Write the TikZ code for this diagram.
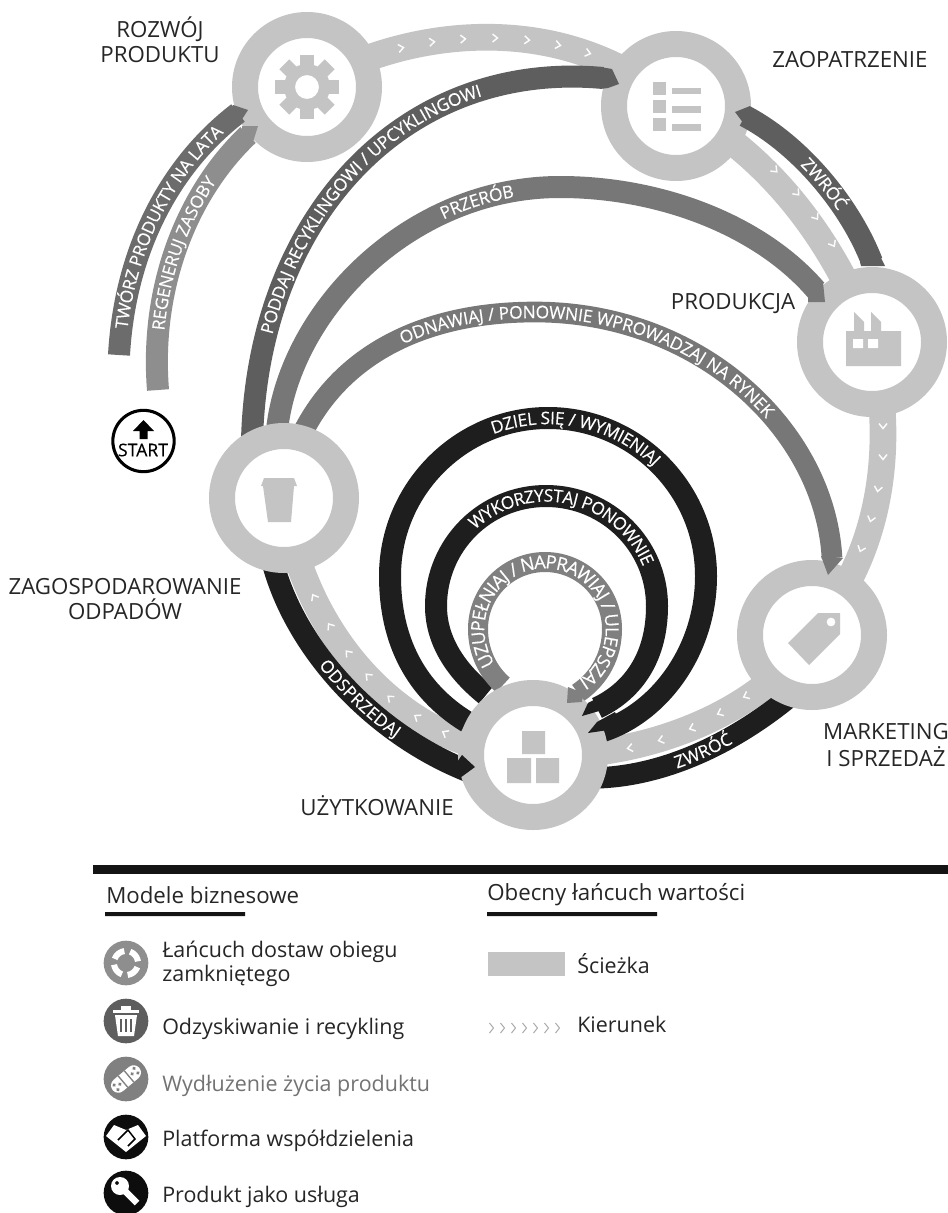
\documentclass[tikz,border=0pt]{standalone}
\usepackage{fontspec}
\usetikzlibrary{decorations.text,calc}
\newfontfamily\opensans{Open Sans}
\newfontfamily\opensansb{Open Sans}[FakeBold=0.25]
\newcommand\bandf{\color{white}\opensansb\fontsize{13}{14}\selectfont}
\newcommand\bandg{\color{white}\opensansb\fontsize{13.8}{15}\selectfont}
\newcommand\labf{\opensans\fontsize{16.7}{18.7}\selectfont}
\newcommand\legf{\opensans\fontsize{16.1}{18}\selectfont}
\definecolor{ringc}{HTML}{C4C4C4}
\definecolor{darkc}{HTML}{5E5E5E}
\definecolor{midc}{HTML}{777777}
\definecolor{twoc}{HTML}{6C6C6C}
\definecolor{regc}{HTML}{8E8E8E}
\definecolor{inkc}{HTML}{1E1E1E}
\definecolor{uzuc}{HTML}{808080}
\newcommand\bandtext[3]{\path[decorate,decoration={text along path,text={|\bandf|#1},text align={left indent=#2},raise=-4.6pt}] #3;}
\tikzset{
 ring/.style={circle,draw=ringc,fill=white,line width=19.5pt,minimum size=93pt,inner sep=0pt,outer sep=0pt},
 lband/.style={draw=ringc,line width=20pt},
 mband/.style={line width=#1},
 mband/.default=16.5pt,
 chevron/.style={draw=white,line width=1.1pt,opacity=.95},
 lab/.style={font=\labf,text=black!85,align=center,inner sep=0pt},
 leg/.style={font=\legf,text=black!85,anchor=west,inner sep=0pt,align=left},
 legicon/.style={circle,minimum size=33.5pt,inner sep=0pt},
}
\begin{document}
\begin{tikzpicture}[x=0.75pt,y=-0.75pt]
\useasboundingbox (0,0) rectangle (948,1213);
\fill[white] (0,0) rectangle (948,1213);
\coordinate (cR) at (307,87);
\coordinate (cZ) at (676,106);
\coordinate (cP) at (872,342);
\coordinate (cM) at (812,635);
\coordinate (cU) at (533,755);
\coordinate (cG) at (284,498);

% light path bands
\draw[lband] (cR) .. controls (400,30) and (560,5) .. (cZ);
\draw[lband] (cZ) .. controls (745,140) and (825,215) .. (cP);
\draw[lband] (cP) .. controls (895,440) and (885,550) .. (cM);
\draw[lband] (cM) .. controls (760,715) and (640,760) .. (cU);
\draw[lband] (cG) .. controls (300,630) and (400,750) .. (cU);

% chevrons
\foreach \x/\y/\a in {401/48/10,432/42/6,463/39/3,495/38/0,527/40/-4,558/45/-10,588/53/-15,
 775/170/-45,797/193/-48,816/217/-55,833/244/-60,
 883/426/-90,883/457/-90,878/489/-100,871/519/-105,861/549/-110,
 746/696/205,720/713/205,692/728/200,661/740/195,630/748/190,
 314/597/120,330/626/125,348/653/130,368/676/135,390/698/140,417/717/145,445/733/150}
 \draw[chevron,shift={(\x,\y)},rotate=\a] (-2.5,-4) -- (2.5,0) -- (-2.5,4);

% rings that lie under the model bands
\node[ring] (rozwoj) at (cR) {};
\node[ring] (zaop) at (cZ) {};
\node[ring] (prod) at (cP) {};
\draw[mband=16pt,draw=inkc] (590,778) .. controls (660,778) and (730,745) .. (787,699);
\node[ring] (market) at (cM) {};

% model bands
\draw[mband,draw=twoc] (119,355) .. controls (125,250) and (170,165) .. (238,113);
\draw[mband,draw=regc] (158,390) .. controls (150,290) and (185,195) .. (248,135);
\draw[mband,draw=darkc] (252,440) .. controls (258,215) and (405,60) .. (603,78);
\draw[mband,draw=midc] (277,430) .. controls (290,310) and (410,187) .. (560,187) .. controls (660,187) and (760,225) .. (816,290);
\draw[mband=15.5pt,draw=midc] (303,432) .. controls (345,350) and (430,312) .. (535,312) .. controls (700,312) and (825,430) .. (832,558);
\draw[mband,draw=darkc] (745,116) .. controls (800,145) and (850,205) .. (872,262);
\draw[mband,draw=inkc] (272,560) .. controls (295,650) and (375,735) .. (470,772);
\draw[mband,draw=inkc] (467,722) .. controls (415,690) and (390,640) .. (390,576) .. controls (390,489) and (461,418) .. (548,418) .. controls (635,418) and (706,489) .. (706,576) .. controls (706,650) and (660,712) .. (603,731);
\draw[mband,draw=inkc] (486,695) .. controls (455,670) and (436,640) .. (436,606) .. controls (436,545) and (485,496) .. (546,496) .. controls (607,496) and (657,545) .. (657,606) .. controls (657,655) and (635,690) .. (597,708);
\draw[mband=15pt,draw=uzuc] (503,685) .. controls (488,672) and (478,652) .. (478,629) .. controls (478,592) and (508,562) .. (545,562) .. controls (582,562) and (612,592) .. (612,629) .. controls (612,655) and (600,678) .. (578,693);

\node[ring] (zagosp) at (cG) {};
\node[ring] (uzyt) at (cU) {};

% band tips that lie over the rings
\fill[twoc] (233,105) -- (248,110) -- (237,127) -- (228,118) -- cycle;
\fill[regc] (242,126) -- (258,126) -- (253,142) -- (242,140) -- cycle;
\fill[darkc] (600,67) -- (612,69) -- (619,84) -- (608,88) -- (600,89) -- cycle;
\fill[midc] (823,282) -- (825,302) -- (808,302) -- (808,295) -- cycle;
\fill[midc] (821,556) -- (843,558) -- (828,575) -- cycle;
\fill[darkc] (735,112) -- (750,106) -- (752,120) -- (747,128) -- cycle;
\fill[darkc] (860,262) -- (861,266) -- (885,266) -- (881,258) -- cycle;
\fill[inkc] (475,767) -- (460,778) -- (450,772) -- (462,755) -- cycle;
\fill[uzuc] (567,703) -- (568,687) -- (583,693) -- (582,702) -- cycle;
\fill[inkc] (582,716) -- (588,703) -- (607,693) -- (613,707) -- cycle;
\fill[inkc] (588,733) -- (597,722) -- (615,712) -- (622,728) -- cycle;

% band texts
\bandtext{TWÓRZ PRODUKTY NA LATA}{20pt}{(119,355) .. controls (125,250) and (170,165) .. (238,113)}
\bandtext{REGENERUJ ZASOBY}{45pt}{(158,390) .. controls (150,290) and (185,195) .. (248,135)}
\bandtext{PODDAJ RECYKLINGOWI / UPCYKLINGOWI}{81pt}{(252,440) .. controls (258,215) and (405,60) .. (603,78)}
\bandtext{PRZERÓB}{212pt}{(277,430) .. controls (290,310) and (410,187) .. (560,187)}
\bandtext{ODNAWIAJ / PONOWNIE WPROWADZAJ NA RYNEK}{103pt}{(303,432) .. controls (345,350) and (430,312) .. (535,312) .. controls (700,312) and (825,430) .. (832,558)}
\bandtext{ZWRÓĆ}{56pt}{(745,116) .. controls (800,145) and (850,205) .. (872,262)}
\bandtext{ODSPRZEDAJ}{86pt}{(272,560) .. controls (295,650) and (375,735) .. (470,772)}
\bandtext{ZWRÓĆ}{65pt}{(590,778) .. controls (660,778) and (730,745) .. (787,699)}
\bandtext{DZIEL SIĘ / WYMIENIAJ}{0pt}{plot[samples=40,domain=249:335] ({548+158*cos(\x)},{576+158*sin(\x)})}
\bandtext{WYKORZYSTAJ PONOWNIE}{0pt}{plot[samples=40,domain=227:370] ({546.5+110.5*cos(\x)},{606+110.5*sin(\x)})}
\path[decorate,decoration={text along path,text={|\bandg|UZUPEŁNIAJ / NAPRAWIAJ / ULEPSZAJ},text align={left indent=0pt},raise=-4.8pt}] plot[samples=60,domain=146:450] ({545+67*cos(\x)},{629+67*sin(\x)});

% ring icons
\fill[ringc,even odd rule] (cR) circle[radius=23] (cR) circle[radius=12];
\foreach \a in {0,45,...,315}
 \fill[ringc,rotate around={\a:(cR)}] ($(cR)+(-7,-32)$) rectangle ($(cR)+(7,-19)$);
\foreach \y in {82,100,118} \fill[ringc] (653,\y) rectangle (666,\y+13);
\foreach \y in {88,106,124} \fill[ringc] (672,\y) rectangle (701,\y+6.5);
\fill[ringc] (846,366) -- (846,331) -- (854,331) -- (854,312) -- (864,322) -- (864,331) -- (871,331) -- (871,312) -- (881,322) -- (881,331) -- (901,331) -- (901,366) -- cycle;
\fill[white] (853,339) rectangle (863,348) (868,339) rectangle (878,348);
\fill[ringc] (263,486) -- (261,486) -- (264,478) -- (294,478) -- (297,486) -- (294,486) -- (291,522) -- (268,522) -- cycle;
\fill[ringc] (522,731) rectangle (545,754) (507,758) rectangle (531,783) (536,758) rectangle (559,783);
\fill[ringc,even odd rule] (840,613) -- (840,634) -- (809,665) -- (788,643) -- (818,613) -- cycle (831,622) circle[radius=4.5];

% labels
\node[lab] (l1) at (160,40) {ROZWÓJ\\PRODUKTU};
\node[lab] (l2) at (850,60) {ZAOPATRZENIE};
\node[lab] (l3) at (733,304) {PRODUKCJA};
\node[lab] (l4) at (125,599) {ZAGOSPODAROWANIE\\ODPADÓW};
\node[lab] (l5) at (886,745) {MARKETING\\[1.5pt]I SPRZEDAŻ};
\node[lab] (l6) at (377,806) {UŻYTKOWANIE};

% start
\node[circle,draw=black,line width=2.3pt,minimum size=46pt,inner sep=0pt,fill=white] (startc) at (143.5,441) {};
\fill[black] (143.5,420) -- (154,431) -- (147.5,431) -- (147.5,439) -- (139.5,439) -- (139.5,431) -- (133,431) -- cycle;
\node[font=\opensansb\fontsize{13.2}{15}\selectfont,inner sep=0pt,text=black] (startt) at (143,450) {START};

% legend
\fill[black!92] (93,865) rectangle (948,874);
\node[leg,font=\opensans\fontsize{16.7}{18}\selectfont] (h1) at (106,895) {Modele biznesowe};
\node[leg,font=\opensans\fontsize{16.7}{18}\selectfont] (h2) at (487,895) {Obecny łańcuch wartości};
\fill[black!92] (105,912) rectangle (245,916) (487,912) rectangle (657,916);
\node[legicon,fill=regc] (i1) at (126,963) {};
\node[legicon,fill=darkc] (i2) at (126,1021) {};
\node[legicon,fill=uzuc] (i3) at (126,1079) {};
\node[legicon,fill=black!95] (i4) at (126,1137) {};
\node[legicon,fill=black!95] (i5) at (126,1193) {};
\node[leg] (t1) at (162,964) {Łańcuch dostaw obiegu\\zamkniętego};
\node[leg] (t2) at (162,1029) {Odzyskiwanie i recykling};
\node[leg,text=black!55] (t3) at (162,1086) {Wydłużenie życia produktu};
\node[leg] (t4) at (162,1141) {Platforma współdzielenia};
\node[leg] (t5) at (162,1197) {Produkt jako usługa};
\fill[ringc] (488,952) rectangle (565,976);
\node[leg] (t6) at (577,964) {Ścieżka};
\foreach \i in {0,...,6}
 \draw[black!35,line width=.7pt,shift={(491+11*\i,1028)}] (-1.5,-5) -- (2.5,0) -- (-1.5,5);
\node[leg] (t7) at (577,1024) {Kierunek};

% legend icons
\foreach \a in {20,110,200,290}
 \draw[white,line width=4.5pt] plot[smooth,samples=10,domain=\a:\a+62] ({126+12*cos(\x)},{963+12*sin(\x)});
\fill[white] (113,1010) rectangle (139,1013);
\fill[white] (121,1006) rectangle (131,1010);
\fill[white] (115,1015) -- (137,1015) -- (134,1036) -- (118,1036) -- cycle;
\foreach \x in {121,126,131} \draw[darkc,line width=1pt] (\x,1019) -- (\x,1032);
\draw[white,line width=11pt,shift={(126,1079)},rotate=40,line cap=round] (-10,0) -- (10,0);
\foreach \p/\q in {-13/-3,-13/3,-8/0,13/-3,13/3,8/0}
 \fill[uzuc,shift={(126,1079)},rotate=40] (\p,\q) circle[radius=1.9];
\draw[uzuc,line width=1pt,shift={(126,1079)},rotate=40] (-4,-7.5) -- (-4,7.5) (4,-7.5) -- (4,7.5);
\fill[white] (106,1136) -- (114,1125) -- (126,1130) -- (138,1125) -- (146,1136) -- (136,1144) -- (126,1152) -- (116,1144) -- cycle;
\draw[black,line width=1.1pt] (118,1140) -- (128,1130) -- (135,1139) -- (128,1146);
\fill[white,even odd rule] (120,1186) circle[radius=9] (117,1183) circle[radius=2];
\draw[white,line width=5pt] (122,1188) -- (137,1203);
\end{tikzpicture}
\end{document}
